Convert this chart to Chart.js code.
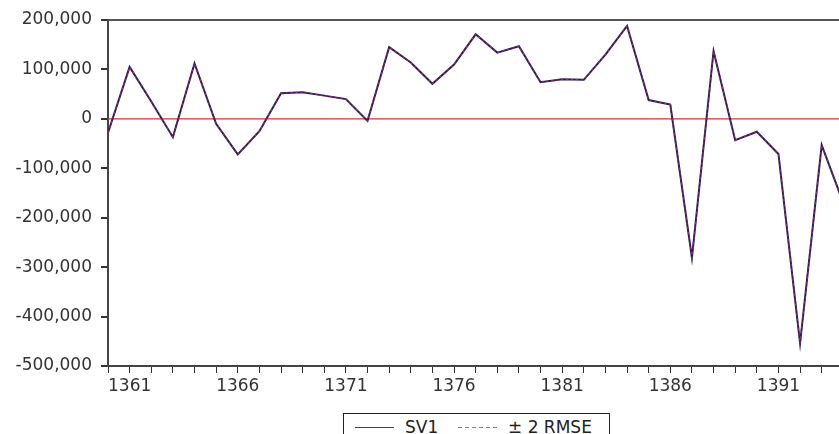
<!DOCTYPE html>
<html lang="en">
<head>
  <meta charset="UTF-8">
  <title>SV1</title>
  <style>
    html, body { margin: 0; padding: 0; background: #fff; }
    #wrap { position: relative; width: 839px; height: 434px; overflow: hidden; }
    #legend {
      position: absolute; left: 343px; top: 413px; width: 267px; height: 30px;
      border: 1px solid #222; background: #fff; box-sizing: border-box;
      font: 17px "DejaVu Sans", sans-serif; color: #222;
    }
    #legend span.ln { position: absolute; top: 13px; width: 39px; height: 1px; }
    #legend span.tx { position: absolute; top: 3px; white-space: nowrap; }
    #legend span.dash { background: repeating-linear-gradient(90deg, #d85a5a 0 4px, transparent 4px 7px); }
  </style>
</head>
<body>
  <div id="wrap">
    <canvas id="chart" width="839" height="434"></canvas>
    <div id="legend">
      <span class="ln" style="left:11px; background:#3a3a7a"></span>
      <span class="tx" style="left:61px">SV1</span>
      <span class="ln dash" style="left:114px"></span>
      <span class="tx" style="left:164px">± 2 RMSE</span>
    </div>
  </div>

  <script src="https://cdn.jsdelivr.net/npm/chart.js"></script>
  <script>
    // years on the x axis
    const years = [1360, 1361, 1362, 1363, 1364, 1365, 1366, 1367, 1368, 1369,
                   1370, 1371, 1372, 1373, 1374, 1375, 1376, 1377, 1378, 1379,
                   1380, 1381, 1382, 1383, 1384, 1385, 1386, 1387, 1388, 1389,
                   1390, 1391, 1392, 1393, 1394];
    // SV1 values
    const sv1 = [-28000, 105000, 35000, -37000, 112000, -10000, -72000, -25000, 52000, 54000,
                 47000, 40000, -4000, 145000, 114000, 71000, 110000, 171000, 134000, 147000,
                 74000, 80000, 79000, 130000, 188000, 38000, 29000, -281000, 137000, -43000,
                 -26000, -71000, -454000, -53000, -170000];
    // reference level (red line)
    const zeroYears = [1360, 1394];
    const zeroLevel = [0, 0];
    const yTicks = [200000, 100000, 0, -100000, -200000, -300000, -400000, -500000];

    const font = { family: 'DejaVu Sans', size: 17 };

    function pairs(xs, ys) {
      return xs.map((x, i) => ({ x: x, y: ys[i] }));
    }

    new Chart(document.getElementById('chart').getContext('2d'), {
      type: 'line',
      data: {
        datasets: [
          {
            label: 'zero',
            data: pairs(zeroYears, zeroLevel),
            borderColor: '#d63030',
            borderWidth: 1.2,
            pointRadius: 0,
            order: 2
          },
          {
            label: 'SV1',
            data: pairs(years, sv1),
            borderColor: '#2b1f55',
            borderWidth: 2,
            pointRadius: 0,
            tension: 0,
            order: 1
          },
          {
            label: '± 2 RMSE',
            data: pairs(years, sv1),
            borderColor: 'rgba(190, 40, 120, 0.8)',
            borderWidth: 1.2,
            borderDash: [2, 3],
            pointRadius: 0,
            tension: 0,
            order: 0
          }
        ]
      },
      options: {
        responsive: false,
        animation: false,
        layout: { padding: { top: 20, right: 0, left: 0, bottom: 0 } },
        plugins: { legend: { display: false }, tooltip: { enabled: false } },
        scales: {
          x: {
            type: 'linear',
            min: 1360,
            max: 1393.8,
            border: { display: true, color: '#444', width: 2 },
            grid: { color: 'transparent', tickColor: '#333', tickLength: 7, drawOnChartArea: false },
            ticks: {
              stepSize: 1,
              autoSkip: false,
              maxRotation: 0,
              includeBounds: false,
              padding: 3,
              color: '#333',
              font: font,
              callback: v => ((v - 1361) % 5 === 0 ? String(v) : '')
            },
            afterFit: s => { s.height = 68; }
          },
          y: {
            min: -500000,
            max: 200000,
            border: { display: true, color: '#444', width: 2 },
            grid: {
              color: ctx => (ctx.tick && ctx.tick.value === 200000 ? '#555' : 'transparent'),
              lineWidth: 2,
              tickColor: '#333',
              tickLength: 7
            },
            afterBuildTicks: s => { s.ticks = yTicks.map(v => ({ value: v })); },
            ticks: {
              padding: 9,
              color: '#333',
              font: font,
              callback: v => v.toLocaleString('en-US')
            },
            afterFit: s => { s.width = 108; }
          }
        }
      }
    });
  </script>
</body>
</html>
